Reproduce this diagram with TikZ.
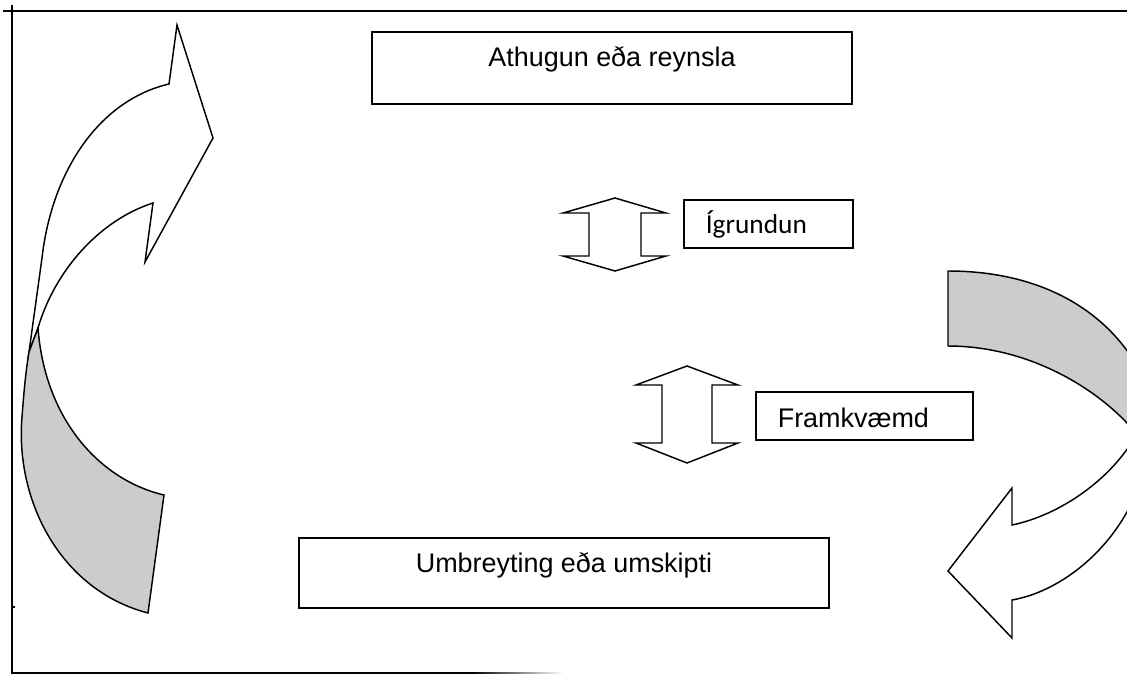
\documentclass[tikz,border=0pt]{standalone}
\usepackage{fontspec}
\setmainfont{Liberation Sans}
\newfontfamily\humanistfont{Carlito}
\definecolor{backgrey}{RGB}{204,204,204}
\begin{document}
\begin{tikzpicture}[x=0.75pt,y=-0.75pt,
  edge/.style={draw=black, line width=1.1pt, line join=miter},
  frontface/.style={edge, fill=white},
  backface/.style={edge, fill=backgrey},
  framerule/.style={draw=black, line width=1.5pt},
  labelbox/.style={draw=black, line width=1.2pt, inner sep=0pt,
    font=\fontsize{20.2}{24}\selectfont},
]
\useasboundingbox (0,0) rectangle (1127,675);
\clip (0,0) rectangle (1127,675);

% frame lines
\draw[framerule] (3,11) -- (1127,11);
\draw[framerule] (12,5) -- (12,674);
\draw[framerule] (12,673) -- (470,673);
% the bottom rule fades out to the right
\foreach \i in {0,...,17}{
  \pgfmathsetmacro{\shadeval}{100-5.5*\i}
  \draw[line width=1.5pt, draw=black!\shadeval] ({470+5*\i},673) -- ({475.5+5*\i},673);
}
\draw[line width=1pt] (12,607) -- (15,607);

% text boxes
\node[labelbox, anchor=north, minimum width=360pt,
      text height=26.25pt, text depth=27.75pt] (obs) at (612,31) {Athugun eða reynsla};
\node[labelbox, anchor=north west, text width=93.75pt, align=left, inner xsep=16.5pt,
      text height=25.5pt, text depth=10.5pt,
      font=\humanistfont\fontsize{20.5}{24}\selectfont] (refl) at (683,199) {Ígrundun};
\node[labelbox, anchor=north west, text width=129.75pt, align=left, inner xsep=16.5pt,
      text height=27pt, text depth=9pt] (act) at (755,391) {Framkvæmd};
\node[labelbox, anchor=north, minimum width=397.5pt,
      text height=26.25pt, text depth=26.25pt] (trans) at (564,537) {Umbreyting eða umskipti};

% vertical double arrows
\draw[frontface] (615,198) -- (666,213) -- (641,213) -- (641,256) -- (666,256)
  -- (615,271) -- (563,256) -- (589,256) -- (589,213) -- (563,213) -- cycle;
\draw[frontface] (687,366) -- (738,385) -- (712,385) -- (712,443) -- (738,443)
  -- (687,463) -- (636,443) -- (662,443) -- (662,385) -- (636,385) -- cycle;

% left curved arrow: front face with head
\draw[frontface] (29,352) -- (42,258) .. controls (52,170) and (100,100) .. (169,84)
  -- (177,25) -- (213,138) -- (145,262) -- (153,203)
  .. controls (100,220) and (55,270) .. (38,328) -- cycle;
% left curved arrow: back face at the tail
\draw[backface] (38,328) .. controls (45,420) and (100,480) .. (164,495)
  -- (148,613) .. controls (60,590) and (15,500) .. (22,417)
  .. controls (24,390) and (26,370) .. (29,352) -- cycle;

% right curved arrow: back face at the tail
\draw[backface] (948,346) -- (948,271) .. controls (1080,271) and (1150,350) .. (1160,435)
  -- (1135,432) .. controls (1100,390) and (1030,346) .. (948,346) -- cycle;
% right curved arrow: front face with head
\draw[frontface] (1135,437) .. controls (1110,480) and (1060,515) .. (1012,525)
  -- (1012,488) -- (948,571) -- (1012,638) -- (1012,600)
  .. controls (1070,590) and (1140,530) .. (1150,440) -- cycle;
\end{tikzpicture}
\end{document}
